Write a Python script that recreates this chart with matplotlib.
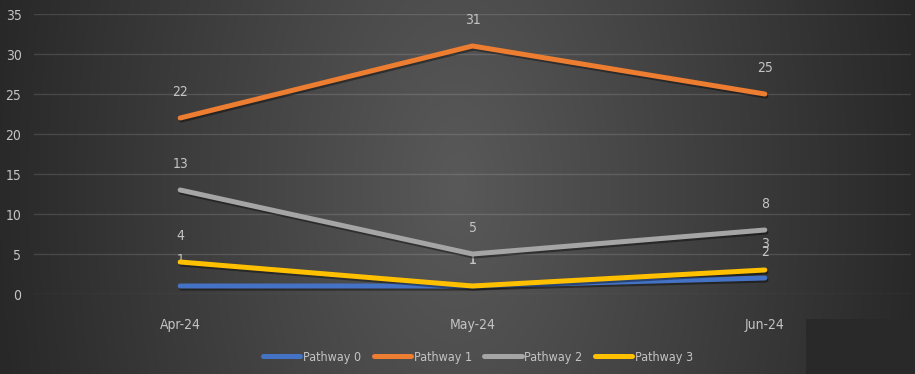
import numpy as np
import matplotlib
matplotlib.use("Agg")
import matplotlib.pyplot as plt
import matplotlib.patheffects as pe
from matplotlib.patches import Rectangle

plt.rcParams["font.family"] = ["DejaVu Sans"]
plt.rcParams["font.stretch"] = "condensed"

months = ["Apr-24", "May-24", "Jun-24"]
series_names = ["Pathway 0", "Pathway 1", "Pathway 2", "Pathway 3"]
pathway_0 = [1, 1, 2]
pathway_1 = [22, 31, 25]
pathway_2 = [13, 5, 8]
pathway_3 = [4, 1, 3]
colors = ["#4472C4", "#ED7D31", "#A5A5A5", "#FFC000"]
yticks = [0, 5, 10, 15, 20, 25, 30, 35]

TEXT = "#c4c4c4"
W, H = 915, 374

fig = plt.figure(figsize=(W / 100, H / 100), dpi=100)

# radial-ish dark background
bg = fig.add_axes([0, 0, 1, 1], zorder=-10)
xx, yy = np.meshgrid(np.linspace(-1, 1, W), np.linspace(-1, 1, H))
d = np.sqrt(xx ** 2 + 0.05 * yy ** 2)
val = (89 - 48 * np.clip(d, 0, 1.05)) / 255.0
bg.imshow(np.dstack([val, val, val]), aspect="auto", extent=[0, 1, 0, 1])
bg.add_patch(Rectangle((806 / W, 0), 1 - 806 / W, (H - 319) / H,
                       facecolor="#292929", edgecolor="none"))
bg.set_xlim(0, 1)
bg.set_ylim(0, 1)
bg.axis("off")

ax = fig.add_axes([34 / W, (H - 294) / H, (911 - 34) / W, 280 / H])
ax.patch.set_alpha(0)

x = np.arange(len(months))
shadow = [pe.SimpleLineShadow(offset=(0.8, -1.5), shadow_color="black", alpha=0.4),
          pe.Normal()]
for i, (name, vals) in enumerate(zip(series_names,
                                     [pathway_0, pathway_1, pathway_2, pathway_3])):
    ax.plot(x, vals, color=colors[i], lw=3.6, solid_capstyle="round",
            solid_joinstyle="miter", label=name, zorder=3 + i, path_effects=shadow)
    for xi, v in zip(x, vals):
        ax.annotate(str(v), (xi, v), xytext=(0, 18.5), textcoords="offset points",
                    ha="center", va="center", color=TEXT, fontsize=10, zorder=2)

ax.set_xlim(-0.5, 2.5)
ax.set_ylim(0, 35)
ax.set_yticks(yticks)
ax.set_xticks(x)
ax.set_xticklabels(months)
ax.grid(axis="y", color="white", alpha=0.13, lw=1)
ax.set_axisbelow(True)
for s in ax.spines.values():
    s.set_visible(False)
ax.tick_params(length=0, colors=TEXT, labelsize=10)
ax.tick_params(axis="y", pad=9)
ax.tick_params(axis="x", pad=17)

leg = fig.legend(loc="center", bbox_to_anchor=(478 / W, 1 - 357 / H), ncol=4,
                 frameon=False, fontsize=9, handlelength=3.0, handletextpad=0.2,
                 columnspacing=1.0)
for t in leg.get_texts():
    t.set_color(TEXT)
for h in leg.get_lines():
    h.set_linewidth(3.6)
    h.set_path_effects([])

fig.savefig("out.png", dpi=100)
